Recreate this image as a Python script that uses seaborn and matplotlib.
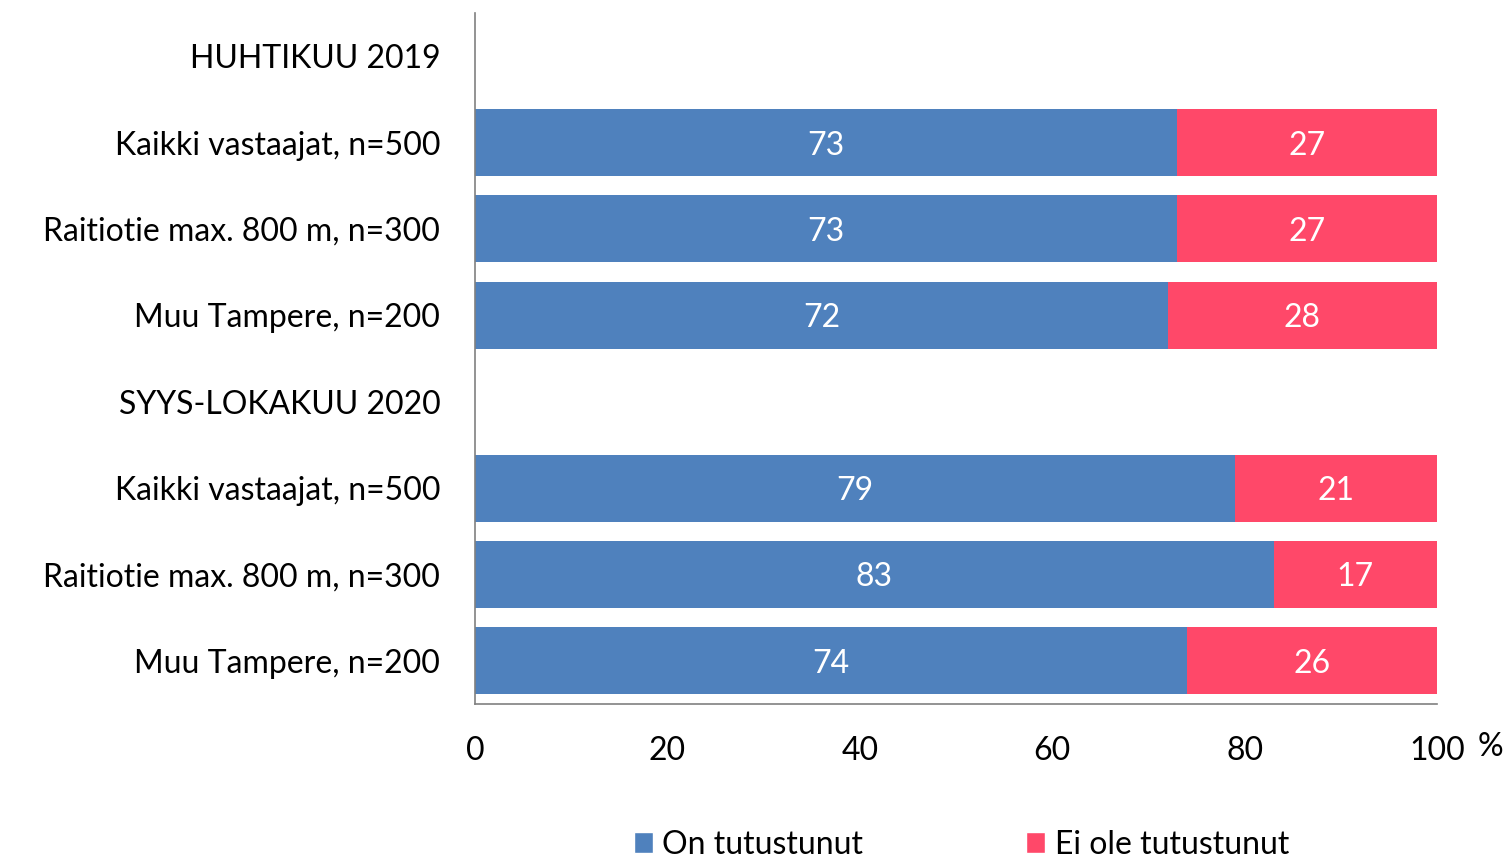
import numpy as np
import pandas as pd
import seaborn as sns
import matplotlib.pyplot as plt
from matplotlib.patches import Patch

# data
groups = ["HUHTIKUU 2019", "SYYS-LOKAKUU 2020"]
subgroups = ["Kaikki vastaajat, n=500", "Raitiotie max. 800 m, n=300", "Muu Tampere, n=200"]
on_2019 = [73, 73, 72]
ei_2019 = [27, 27, 28]
on_2020 = [79, 83, 74]
ei_2020 = [21, 17, 26]
series_names = ["On tutustunut", "Ei ole tutustunut"]

blue = '#4F81BD'
pink = '#FF4869'

rows = []
for g, on_vals, ei_vals in [(groups[0], on_2019, ei_2019), (groups[1], on_2020, ei_2020)]:
    rows.append(dict(label=g, on=0, ei=0, header=True))
    for s, o, e in zip(subgroups, on_vals, ei_vals):
        rows.append(dict(label=s, on=o, ei=e, header=False))
df = pd.DataFrame(rows)
df['row'] = [str(i) for i in range(len(df))]
df['total'] = df['on'] + df['ei']

sns.set_theme(style='white')
plt.rcParams['font.family'] = ['Lato', 'DejaVu Sans']
plt.rcParams['text.color'] = 'black'
fs = 23

fig = plt.figure(figsize=(15.08, 8.59), dpi=100)
ax = fig.add_axes([0.315, 0.1804, 0.638, 0.8045])

# stacked: full bar in pink, blue part on top
sns.barplot(data=df, y='row', x='total', order=df['row'], color=pink, saturation=1.0,
            width=0.775, linewidth=0, ax=ax, errorbar=None)
sns.barplot(data=df, y='row', x='on', order=df['row'], color=blue, saturation=1.0,
            width=0.775, linewidth=0, ax=ax, errorbar=None)

# value labels
blue_bars = ax.containers[1]
for bar, (_, r) in zip(blue_bars, df.iterrows()):
    if r['header']:
        continue
    y = bar.get_y() + bar.get_height() / 2
    ax.text(r['on'] / 2, y, f"{r['on']}", ha='center', va='center_baseline', color='white', fontsize=fs)
    ax.text(r['on'] + r['ei'] / 2, y, f"{r['ei']}", ha='center', va='center_baseline', color='white', fontsize=fs)

ax.set_xlim(0, 100)
ax.set_xticks([0, 20, 40, 60, 80, 100])
ax.set_xticklabels(['0', '20', '40', '60', '80', '100'])
ax.set_yticks(range(len(df)))
ax.set_yticklabels(df['label'])
ax.set_xlabel('')
ax.set_ylabel('')
ax.tick_params(axis='x', length=0, pad=23, labelsize=fs, labelcolor='black')
ax.tick_params(axis='y', length=0, pad=25, labelsize=fs, labelcolor='black')
ax.text(1.055, -0.062, '%', transform=ax.transAxes, ha='center', va='center', fontsize=fs, color='black')

for side in ['top', 'right']:
    ax.spines[side].set_visible(False)
for side in ['left', 'bottom']:
    ax.spines[side].set_color('#808080')
    ax.spines[side].set_linewidth(1.2)

handles = [Patch(facecolor=blue), Patch(facecolor=pink)]
fig.legend(handles, series_names, loc='center', bbox_to_anchor=(0.6376, 0.0165), ncol=2,
           frameon=False, fontsize=fs, handlelength=0.6, handleheight=0.6,
           handletextpad=0.3, columnspacing=5.1, labelcolor='black')

fig.savefig('out.png', dpi=100)
